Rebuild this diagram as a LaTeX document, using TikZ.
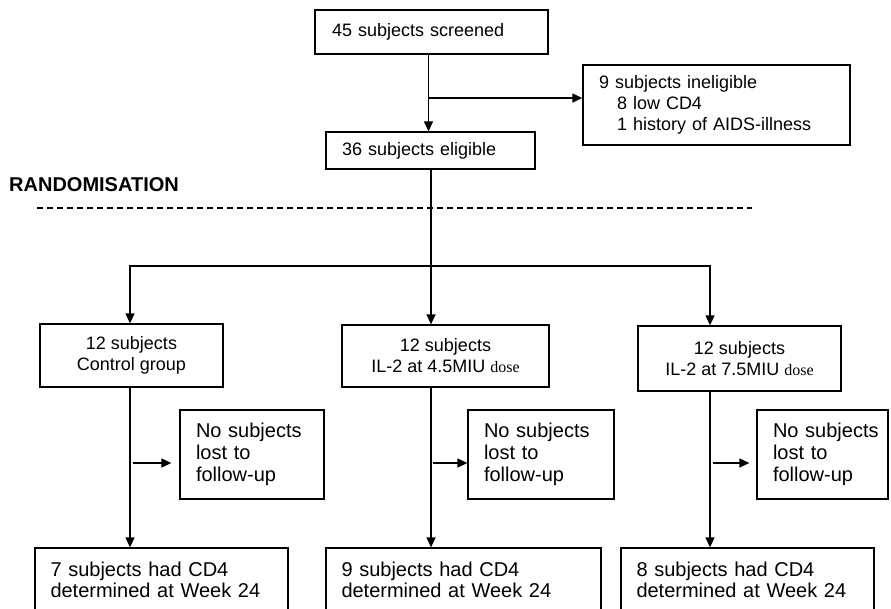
\documentclass[tikz,border=0pt]{standalone}
\usepackage{fontspec}
\setmainfont{Liberation Sans}
\newfontfamily\serifdose{Liberation Serif}
\usetikzlibrary{arrows.meta}
\tikzset{
  box/.style={draw, line width=1.3pt, inner ysep=0pt, font=\fontsize{18}{21}\selectfont},
  lost/.style={box, font=\fontsize{20}{22}\selectfont, align=left, inner xsep=16pt, minimum height=89pt},
  res/.style={box, font=\fontsize{20}{21}\selectfont, align=left, inner xsep=15.5pt, minimum height=63pt},
  grp/.style={box, align=center},
  conn/.style={line width=1.3pt},
  arr/.style={conn, -{Triangle[length=10pt,width=9pt]}},
}
\begin{document}
\begin{tikzpicture}[x=1pt,y=-1pt]
\useasboundingbox (0,0) rectangle (891,608);
% top part
\node[box, minimum height=44pt, text width=199pt, inner xsep=17pt, align=left] (scr) at (431.5,32) {45 subjects screened};
\node[box, minimum height=80pt, text width=235pt, inner xsep=16pt, align=left] (inel) at (716.5,105) {9 subjects ineligible\\\hspace*{18pt}8 low CD4\\\hspace*{18pt}1 history of AIDS-illness};
\node[box, minimum height=37pt, text width=177pt, inner xsep=16pt, align=left] (elig) at (430.5,150.5) {36 subjects eligible};
\node[font=\bfseries\fontsize{20}{24}\selectfont, anchor=west, inner sep=0pt] (rand) at (9,185) {RANDOMISATION};
\coordinate (dl) at (37,208);
\coordinate (dr) at (752,208);
\draw[line width=1.2pt, dash pattern=on 6pt off 4pt] (dl) -- (dr);
% groups
\node[grp, minimum width=183pt, minimum height=63pt] (ctrl) at (131.5,355.5) {12 subjects\\Control group};
\node[grp, minimum width=207pt, minimum height=62pt] (mid) at (445.5,356) {12 subjects\\IL-2 at 4.5MIU {\serifdose\fontsize{16}{21}\selectfont dose}};
\node[grp, minimum width=203pt, minimum height=65pt] (high) at (739.5,358.5) {12 subjects\\IL-2 at 7.5MIU {\serifdose\fontsize{16}{21}\selectfont dose}};
% lost to follow-up
\node[lost, text width=112pt] (lost1) at (252,454.5) {No subjects\\lost to\\follow-up};
\node[lost, text width=114pt] (lost2) at (541,454.5) {No subjects\\lost to\\follow-up};
\node[lost, text width=99pt] (lost3) at (822.5,454.5) {\mbox{No subjects}\\lost to\\follow-up};
% results
\node[res, text width=222pt] (res1) at (161.5,579.5) {7 subjects had CD4\\determined at Week 24};
\node[res, text width=244pt] (res2) at (463.5,579.5) {9 subjects had CD4\\determined at Week 24};
\node[res, text width=222pt] (res3) at (747.5,579.5) {8 subjects had CD4\\determined at Week 24};
% connectors
\draw[arr] ([xshift=-3pt]scr.south) -- ([xshift=-3pt]scr.south |- elig.north);
\coordinate (j0) at (428,98);
\draw[arr] (j0) -- (j0 -| inel.west);
\coordinate (sm) at (431,266);
\coordinate (sl) at (130,266);
\coordinate (sr) at (710,266);
\draw[conn] (elig.south -| sm) -- (sm);
\draw[arr] (sm) -| (sl |- ctrl.north);
\draw[arr] (sm) -| (sr |- high.north);
\draw[arr] (sm) -- (sm |- mid.north);
\draw[arr] (sl |- ctrl.south) -- (sl |- res1.north);
\draw[arr] (sm |- mid.south) -- (sm |- res2.north);
\draw[arr] (sr |- high.south) -- (sr |- res3.north);
\coordinate (k1) at (133,463);
\coordinate (k2) at (433,463);
\coordinate (k3) at (713,463);
\draw[arr, shorten >=8pt] (k1) -- (k1 -| lost1.west);
\draw[arr] (k2) -- (k2 -| lost2.west);
\draw[arr, shorten >=7pt] (k3) -- (k3 -| lost3.west);
\end{tikzpicture}
\end{document}
